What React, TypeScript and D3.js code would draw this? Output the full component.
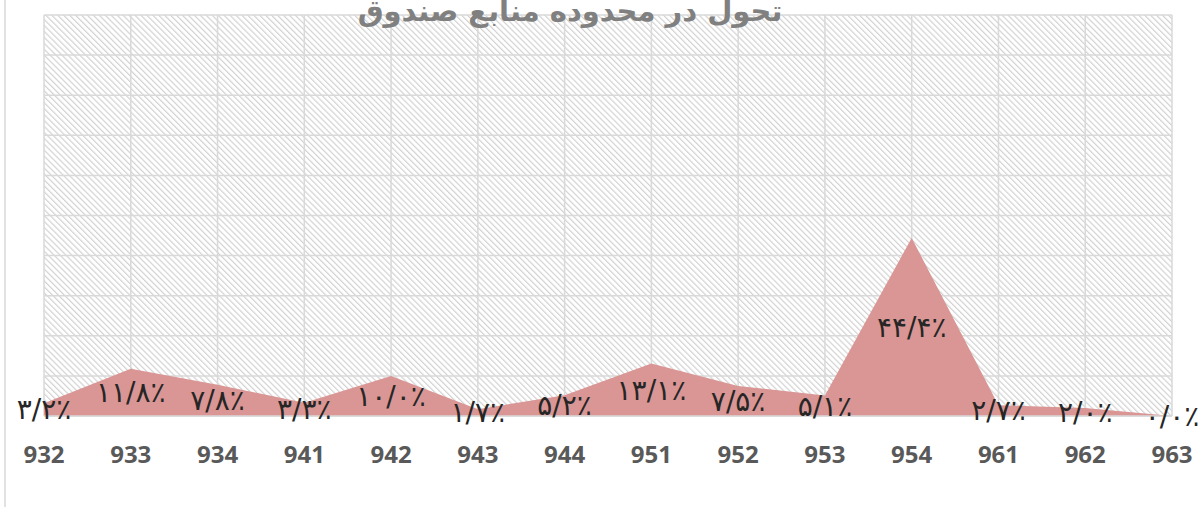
import React from 'react';
import * as d3 from 'd3';

const categories = ['932', '933', '934', '941', '942', '943', '944', '951', '952', '953', '954', '961', '962', '963'];
const shares = [3.2, 11.8, 7.8, 3.3, 10.0, 1.7, 5.2, 13.1, 7.5, 5.1, 44.4, 2.7, 2.0, 0.0];
const yTicks = [0, 10, 20, 30, 40, 50, 60, 70, 80, 90, 100];
const title = 'تحول در محدوده منابع صندوق';

const W = 1202;
const H = 507;
const margin = { top: 15, right: 30, bottom: 91, left: 44 };

const faDigits = '۰۱۲۳۴۵۶۷۸۹';
const toFa = (v: number) =>
  v.toFixed(1).replace('.', '/').replace(/[0-9]/g, d => faDigits[+d]) + '٪';

const App = () => {
  const x = d3.scalePoint<string>()
    .domain(categories)
    .range([margin.left, W - margin.right]);

  const y = d3.scaleLinear()
    .domain([0, 100])
    .range([H - margin.bottom, margin.top]);

  const area = d3.area<number>()
    .x((_, i) => x(categories[i]) as number)
    .y0(y(0))
    .y1(d => y(d));

  const x0 = margin.left;
  const x1 = W - margin.right;

  return (
    <svg width={W} height={H} style={{ position: 'absolute', left: 0, top: 0, background: '#fff' }}>
      <defs>
        <pattern id="hatch" width="4.2" height="4.2" patternUnits="userSpaceOnUse" patternTransform="rotate(-45)">
          <line x1="0.6" y1="0" x2="0.6" y2="4.2" stroke="#d2d2d2" strokeWidth="1.2" />
        </pattern>
      </defs>
      {/* chart border, left edge only visible */}
      <line x1={5} x2={5} y1={0} y2={H} stroke="#d9d9d9" strokeWidth={1.5} />

      <rect x={x0} y={y(100)} width={x1 - x0} height={y(0) - y(100)} fill="url(#hatch)" />

      {/* gridlines */}
      {yTicks.map(t => (
        <line key={'h' + t} x1={x0} x2={x1} y1={y(t)} y2={y(t)} stroke="#d9d9d9" strokeWidth={1.5} />
      ))}
      {categories.map(c => (
        <line key={'v' + c} x1={x(c)} x2={x(c)} y1={y(100)} y2={y(0)} stroke="#d9d9d9" strokeWidth={1.5} />
      ))}

      <path d={area(shares) ?? ''} fill="#d99694" />
      <line x1={x0} x2={x1} y1={y(0)} y2={y(0)} stroke="#d9d9d9" strokeWidth={1.5} />

      {/* data labels */}
      {shares.map((v, i) => (
        <text
          key={'l' + i}
          x={x(categories[i])}
          y={y(v / 2)}
          dy="0.35em"
          textAnchor="middle"
          direction="ltr"
          fontFamily="DejaVu Sans"
          fontSize={28}
          fill="#262626"
        >
          {toFa(v)}
        </text>
      ))}

      {/* x axis labels */}
      {categories.map(c => (
        <text
          key={'x' + c}
          x={x(c)}
          y={463}
          textAnchor="middle"
          fontFamily="Open Sans"
          fontWeight="bold"
          fontSize={24}
          fill="#595959"
        >
          {c}
        </text>
      ))}

      <text
        x={570}
        y={21}
        textAnchor="middle"
        direction="rtl"
        fontFamily="DejaVu Sans"
        fontWeight="bold"
        fontSize={29}
        fill="#808080"
      >
        {title}
      </text>
    </svg>
  );
};

export default App;
